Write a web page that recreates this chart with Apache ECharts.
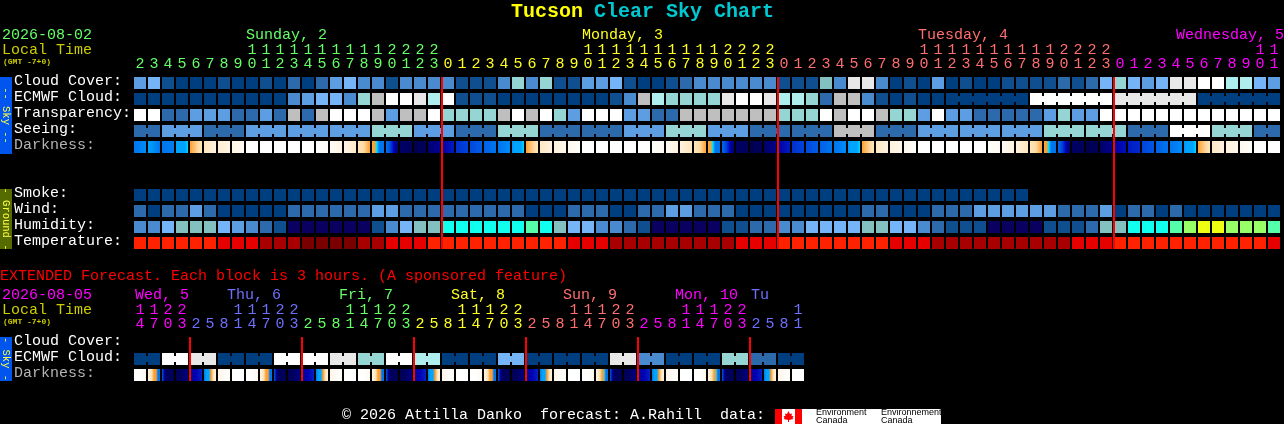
<!DOCTYPE html>
<html><head><meta charset="utf-8">
<style>html,body{margin:0;padding:0;background:#000}#c{width:1284px;height:424px}</style>
<script src="https://cdn.jsdelivr.net/npm/echarts@6/dist/echarts.min.js"></script>
</head><body><div id="c"></div>
<script>
const skyHours=[2,3,4,5,6,7,8,9,10,11,12,13,14,15,16,17,18,19,20,21,22,23,0,1,2,3,4,5,6,7,8,9,10,11,12,13,14,15,16,17,18,19,20,21,22,23,0,1,2,3,4,5,6,7,8,9,10,11,12,13,14,15,16,17,18,19,20,21,22,23,0,1,2,3,4,5,6,7,8,9,10,11];
const extHours=[14,17,20,23,2,5,8,11,14,17,20,23,2,5,8,11,14,17,20,23,2,5,8,11,14,17,20,23,2,5,8,11,14,17,20,23,2,5,8,11,14,17,20,23,2,5,8,11];
const skyRows=['Cloud Cover:','ECMWF Cloud:','Transparency:','Seeing:','Darkness:'];
const groundRows=['Smoke:','Wind:','Humidity:','Temperature:'];
const extRows=['Cloud Cover:','ECMWF Cloud:','Darkness:'];

const palette=['#003f7f','#0f4f8f','#2c6aab','#4a8bd0','#5d9de2','#74b4f7','#95d5d3','#aeeeee','#bfbfbf','#e8e8e8','#ffffff','#83c0c0','#0a0060','#10ffee','#55ffaa','#99ff66','#eeff11'];
const tempPalette=['#ff2200','#e60000','#a80000','#7a0000'];
const darkPalette=['#ffffff','#fff2dd','#ffd9a0','#ffa030','#00e0ff','#00a4ff','#0074ee','#0044dc','#0000b4','#000070','#000048'];

const cloud=[4,5,1,0,0,0,1,0,0,1,0,2,0,2,4,5,3,3,1,3,3,3,
 3,1,1,1,3,6,3,6,1,1,4,4,5,1,0,0,1,2,3,3,3,3,3,3,
 1,1,1,11,3,9,9,3,0,1,0,4,0,1,0,0,1,1,1,1,2,1,2,5,
 6,5,4,5,9,9,10,10,7,7,5,4];
const ecmwf=[0,0,0,0,0,0,0,0,0,0,0,3,4,5,5,3,6,8,10,10,9,7,
 10,1,1,1,0,0,0,0,0,0,0,0,1,3,8,7,6,6,6,6,9,10,10,9,
 7,7,6,2,8,8,3,1,0,1,0,0,0,0,0,0,0,0,10,10,10,10,10,10,
 9,9,9,9,9,9,0,0,0,0,0,0];
const transparency=[10,10,2,2,4,4,4,2,2,4,2,8,2,8,10,10,10,8,4,8,8,10,
 6,6,6,6,8,10,8,10,6,4,10,10,10,4,4,2,2,8,8,8,8,8,8,8,
 6,6,6,10,8,10,10,8,6,6,4,10,4,4,2,2,2,2,2,4,6,4,4,10,
 10,10,10,10,10,10,10,10,10,10,10,10];
const seeing=[2,2,4,4,4,2,2,2,4,4,4,4,4,4,4,4,4,6,6,6,4,4,
 4,2,2,2,6,6,6,2,2,2,2,2,2,4,4,4,6,6,6,4,4,4,2,2,
 2,2,2,2,8,8,8,2,2,2,4,4,4,4,4,4,4,4,4,6,6,6,6,6,
 6,2,2,2,10,10,10,6,6,6,2,2];
const darkness=[[6,5.5],[5,5.5,6],[6,5.8],[5,5,5,5,4.2],
 [3,2.5,2,1.5],[1.5,1],[1.2,.8],[.8,.3],[0,0],[0,0],[0,0],[0,0],[0,0],[0,.2],[.3,.8],[.8,1.3],[1.5,2,3],[3,3,4,6,6,6],[6,6.8,8,9],[9.2,9.5],[9.8,9.5],[9,8.5],
 [8.3,7.6],[7.3,7],[6.9,6.5],[6.4,6],[6,5.5],[5.3,5,5,5,4.1],
 [3,2.5,2,1.5],[1.4,1],[1,.6],[.6,.1],[0,0],[0,0],[0,0],[0,0],[0,0],[.1,.4],[.4,.9],[1,1.5],[1.5,2,3],[3,3,4,6,6,6],[6.2,7,8,9],[9.3,9.5],[9.8,9.6],[9.2,8.6],
 [8.3,7.6],[7.3,7],[6.9,6.5],[6.4,6],[6,5.5],[5.3,5,5,5,4.1],
 [3,2.5,2,1.5],[1.4,1],[1,.6],[.6,.1],[0,0],[0,0],[0,0],[0,0],[0,0],[.1,.4],[.4,.9],[1,1.5],[1.5,2,3],[3,3,4,6,6,6],[6.2,7,8,9],[9.3,9.5],[9.8,9.6],[9.2,8.6],
 [8.3,7.8],[7.6,7.4],[7,6.6],[6.4,6],[6,5.5],[5.3,5,5,5,4.1],
 [3,2.5,2,1.5],[1.4,1],[1,.6],[.6,.1],[0,0],[0,0]];
const smoke=[0,0,0,0,0,0,0,0,0,0,0,0,0,0,0,0,0,0,0,0,0,0,
 0,0,0,0,0,0,0,0,0,0,0,0,0,0,0,0,0,0,0,0,0,0,0,0,
 0,0,0,0,0,0,0,0,0,0,0,0,0,0,0,0,0,0];
const wind=[2,0,2,2,4,2,0,0,0,0,0,2,2,2,2,2,2,4,4,2,2,2,
 2,2,2,2,2,2,0,0,0,2,2,2,0,0,2,2,4,4,2,2,2,0,0,0,
 0,0,0,0,0,0,2,2,0,0,0,2,2,2,4,4,4,4,4,4,2,2,2,4,
 0,2,2,0,2,0,0,0,0,0,0,0];
const humidity=[3,3,5,11,11,11,5,4,3,2,1,12,12,12,12,12,12,1,3,5,11,11,
 13,13,13,13,13,13,14,13,11,5,5,3,3,2,1,12,12,12,12,12,1,1,2,2,
 3,3,5,5,5,5,11,11,5,5,3,2,1,1,1,12,12,12,12,1,1,1,2,11,
 11,13,13,13,14,15,16,16,15,15,15,14];
const temperature=[0,0,0,0,0,0,1,1,1,2,2,2,3,3,3,3,2,2,1,1,1,0,
 0,0,0,0,0,0,0,0,0,1,1,1,2,2,2,2,2,2,2,2,2,1,1,1,
 0,0,0,0,0,0,0,0,1,1,1,2,2,2,2,2,2,2,2,2,2,1,1,1,
 0,0,0,0,0,0,0,0,0,0,0,1];
const extEcmwf=[0,0,10,10,9,9,0,0,0,0,10,10,10,10,9,9,6,6,10,10,7,7,0,0,0,0,5,5,0,0,0,0,0,0,9,9,3,3,0,0,0,0,6,6,2,2,0,0];
const extDarkness=[[0,0,.6],[.8,1.2,1.8,3,3,6,6],[6.5,8.5,9.5,9.6,9.6,9.6],[9.6,9.5,9,8.8],[8.5,8,7.5],[6,5,5,3,1.5,1],[.7,.3,0],[0,0],
 [0,0,.6],[.8,1.2,1.8,3,3,6,6],[6.5,8.5,9.5,9.6,9.6,9.6],[9.6,9.5,9,8.8],[8.5,8,7.5],[6,5,5,3,1.5,1],[.7,.3,0],[0,0],
 [0,0,.6],[.8,1.2,1.8,3,3,6,6],[6.5,8.5,9.5,9.6,9.6,9.6],[9.6,9.5,9,8.8],[8.5,8,7.5],[6,5,5,3,1.5,1],[.7,.3,0],[0,0],
 [0,0,.6],[.8,1.2,1.8,3,3,6,6],[6.5,8.5,9.5,9.6,9.6,9.6],[9.6,9.5,9,8.8],[8.5,8,7.5],[6,5,5,3,1.5,1],[.7,.3,0],[0,0],
 [0,0,.6],[.8,1.2,1.8,3,3.5,6,6],[6.5,8.5,9.5,9.6,9.6,9.6],[9.6,9.5,9,8.8],[8.5,8,7.5],[6,5,5,3,1.5,1],[.7,.3,0],[0,0],
 [0,0,.6],[.8,1.2,1.8,3,3.5,6,6],[6.5,8.5,9.5,9.6,9.6,9.6],[9.6,9.5,9,8.8],[8.5,8,7.5],[6,5,5,3,1.5,1],[.7,.3,0],[0,0]];
const skyMidnights=[21,45,69];
const extMidnights=[3,11,19,27,35,43];

const GREEN='#66ff66',YELLOW='#ffff22',SALMON='#ff6f6f',MAGENTA='#ff00ff',PERI='#6f6fff',OLIVE='#cccc00';
const FONT='"Liberation Mono",monospace';
const skyHourColor=(i)=>i<22?GREEN:i<46?YELLOW:i<70?SALMON:MAGENTA;
const extHourColor=(i)=>i<4?MAGENTA:i<12?PERI:i<20?GREEN:i<28?YELLOW:i<36?SALMON:i<44?MAGENTA:PERI;

function hourAxis(grid,hours,colorFn,tens,offset){
  return {type:'category',gridIndex:grid,position:'top',offset,data:hours.map(String),
    axisLine:{show:false},axisTick:{show:false},splitLine:{show:false},
    axisLabel:{show:true,interval:0,margin:3,fontFamily:FONT,fontSize:15,hideOverlap:false,
      formatter:(v,i)=>tens?(hours[i]>=10?String(Math.floor(hours[i]/10)):''):String(hours[i]%10),
      color:(v,i)=>colorFn(i)}};
}
function rowAxis(grid,names){
  const rowStyle=(color)=>({fontFamily:FONT,fontSize:15,color,padding:[0,0,3,0]});
  return {type:'category',gridIndex:grid,inverse:true,data:names,
    axisLine:{show:false},axisTick:{show:false},splitLine:{show:false},
    axisLabel:{show:true,interval:0,align:'left',margin:119,fontFamily:FONT,fontSize:15,
      formatter:(v)=>(v==='Darkness:'?'{d|':'{w|')+v+'}',
      rich:{w:rowStyle('#ffffff'),d:rowStyle('#b4b4b4')}}};
}
function hex(c){return [1,3,5].map(k=>parseInt(c.slice(k,k+2),16));}
function darkColor(v){
  const a=Math.min(10,Math.floor(v)),b=Math.min(10,a+1),t=v-a,A=hex(darkPalette[a]),B=hex(darkPalette[b]);
  return 'rgb('+A.map((x,k)=>Math.round(x+(B[k]-x)*t)).join(',')+')';
}
function cellSeries(axis,row,values,colorFn,linkFn){
  return {type:'custom',xAxisIndex:axis.x,yAxisIndex:axis.y,z:2,silent:true,animation:false,
    data:values.map((_,i)=>[i,row]),encode:{x:0,y:1},clip:false,
    renderItem:(p,api)=>{
      const i=api.value(0),c=api.coord([i,row]),s=api.size([1,1]);
      const w=s[0]-2,h=s[1]-4,fill=colorFn(values[i]);
      const kids=[{type:'rect',shape:{x:c[0]-w/2,y:c[1]-h/2,width:w,height:h},style:{fill}}];
      if(linkFn&&linkFn(i)&&values[i+1]===values[i]){
        kids.push({type:'rect',shape:{x:c[0]+w/2,y:c[1]-3,width:s[0]-w,height:6},style:{fill}});
      }
      return {type:'group',children:kids};
    }};
}
const flat=(v)=>palette[v];
const grad=(samples)=>({type:'linear',x:0,y:0,x2:1,y2:0,colorStops:samples.map((v,k)=>({offset:k/(samples.length-1),color:darkColor(v)}))});
function redSeries(axis,cols,top,extra){
  return {type:'custom',xAxisIndex:axis.x,yAxisIndex:axis.y,z:5,silent:true,animation:false,clip:false,
    data:cols.map(c=>[c,0]),encode:{x:0,y:1},
    renderItem:(p,api)=>{
      const c=api.coord([api.value(0),0]),s=api.size([1,1]),g=p.coordSys;
      return {type:'rect',shape:{x:c[0]+s[0]/2,y:g.y+top,width:2,height:g.height-top+extra},style:{fill:'#ff0000'}};
    }};
}
function text(x,y,t,fill,size,bold){
  return {type:'text',x,y,silent:true,z:10,style:{text:t,fill,font:(bold?'bold ':'')+(size||15)+'px '+FONT,verticalAlign:'middle'}};
}
function sideBar(x,y,w,h,fill,label){
  return [{type:'rect',silent:true,z:10,shape:{x,y,width:w,height:h},style:{fill}},
    {type:'text',silent:true,z:11,x:x+w/2,y:y+h/2,rotation:-Math.PI/2,
     style:{text:label,fill:'#ffff44',font:'10.5px '+FONT,align:'center',verticalAlign:'middle'}}];
}
const SKY={x:0,y:0},GROUND={x:2,y:1},EXT={x:3,y:2};
const option={
  backgroundColor:'#000',animation:false,
  grid:[{left:133,top:75,width:1148,height:80},{left:133,top:187,width:1148,height:64},{left:133,top:335,width:672,height:48}],
  xAxis:[hourAxis(0,skyHours,skyHourColor,false,0),hourAxis(0,skyHours,skyHourColor,true,14),
    {type:'category',gridIndex:1,show:false,data:skyHours.map(String)},
    hourAxis(2,extHours,extHourColor,false,0),hourAxis(2,extHours,extHourColor,true,14)],
  yAxis:[rowAxis(0,skyRows),rowAxis(1,groundRows),rowAxis(2,extRows)],
  series:[
    cellSeries(SKY,0,cloud,flat),
    cellSeries(SKY,1,ecmwf,flat,(i)=>i>=58),
    cellSeries(SKY,2,transparency,flat),
    cellSeries(SKY,3,seeing,flat,(i)=>(i+1)%3!==2),
    cellSeries(SKY,4,darkness,grad),
    cellSeries(GROUND,0,smoke,flat),
    cellSeries(GROUND,1,wind,flat),
    cellSeries(GROUND,2,humidity,flat),
    cellSeries(GROUND,3,temperature,(v)=>tempPalette[v]),
    cellSeries(EXT,1,extEcmwf,flat,(i)=>i%2===0),
    cellSeries(EXT,2,extDarkness,grad),
    redSeries(SKY,skyMidnights,2,32),
    redSeries(GROUND,skyMidnights,0,-2),
    redSeries(EXT,extMidnights,2,-2)
  ],
  graphic:{elements:[
    text(511,12,'Tucson','#ffff00',20,true),text(594,12,'Clear Sky Chart','#00c8d0',20,true),
    text(2,35,'2026-08-02',GREEN),text(2,50,'Local Time',OLIVE),text(3,62,'(GMT -7+0)',OLIVE,8,true),
    text(246,35,'Sunday, 2',GREEN),text(582,35,'Monday, 3',YELLOW),text(918,35,'Tuesday, 4',SALMON),text(1176,35,'Wednesday, 5',MAGENTA),
    text(0,276,'EXTENDED Forecast. Each block is 3 hours. (A sponsored feature)','#ff0000'),
    text(2,295,'2026-08-05',MAGENTA),text(2,310,'Local Time',OLIVE),text(3,322,'(GMT -7+0)',OLIVE,8,true),
    text(135,295,'Wed, 5',MAGENTA),text(227,295,'Thu, 6',PERI),text(339,295,'Fri, 7',GREEN),text(451,295,'Sat, 8',YELLOW),text(563,295,'Sun, 9',SALMON),text(675,295,'Mon, 10',MAGENTA),text(751,295,'Tu',PERI),
    text(342,415,'\u00a9 2026 Attilla Danko  forecast: A.Rahill  data:','#ffffff'),
    ...sideBar(0,77,12,77,'#0055ee','-- Sky --'),
    ...sideBar(0,189,12,60,'#556b00','- Ground -'),
    ...sideBar(0,337,12,44,'#0055ee','- Sky -'),
    {type:'rect',silent:true,z:10,shape:{x:775,y:409,width:166,height:15},style:{fill:'#fff'}},
    {type:'rect',silent:true,z:11,shape:{x:775,y:409,width:7,height:15},style:{fill:'#ff0000'}},
    {type:'rect',silent:true,z:11,shape:{x:795,y:409,width:7,height:15},style:{fill:'#ff0000'}},
    {type:'polygon',silent:true,z:11,shape:{points:[[788.5,411],[790,414],[792,413.5],[791.5,416],[793.5,416],[792.5,418],[793.5,419],[789,420],[789,422],[788,422],[788,420],[783.5,419],[784.5,418],[783.5,416],[785.5,416],[785,413.5],[787,414]]},style:{fill:'#ff0000'}},
    {type:'text',silent:true,z:11,x:816,y:412.5,style:{text:'Environment',fill:'#000',font:'9px "Liberation Sans"',verticalAlign:'middle'}},
    {type:'text',silent:true,z:11,x:816,y:420.5,style:{text:'Canada',fill:'#000',font:'9px "Liberation Sans"',verticalAlign:'middle'}},
    {type:'text',silent:true,z:11,x:881,y:412.5,style:{text:'Environnement',fill:'#000',font:'9px "Liberation Sans"',verticalAlign:'middle'}},
    {type:'text',silent:true,z:11,x:881,y:420.5,style:{text:'Canada',fill:'#000',font:'9px "Liberation Sans"',verticalAlign:'middle'}}
  ]}
};
echarts.init(document.getElementById('c')).setOption(option);
</script></body></html>
